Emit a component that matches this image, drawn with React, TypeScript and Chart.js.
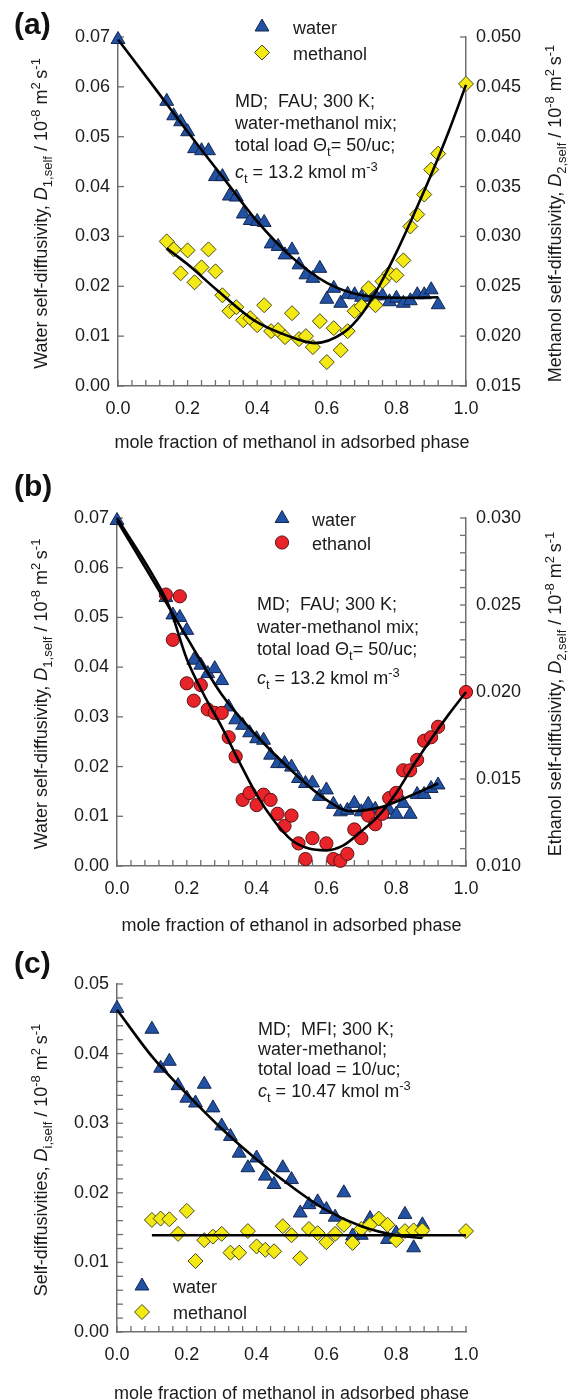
import React, { useEffect, useRef } from 'react';
import { Chart, registerables } from 'chart.js';

Chart.register(...registerables);

// ---------------- axis ticks ----------------
const X_TICK_VALUES = [0, 0.2, 0.4, 0.6, 0.8, 1.0];
const X_TICK_LABELS = ['0.0', '0.2', '0.4', '0.6', '0.8', '1.0'];

const A_LEFT_TICKS = [0, 0.01, 0.02, 0.03, 0.04, 0.05, 0.06, 0.07];
const A_LEFT_LABELS = ['0.00', '0.01', '0.02', '0.03', '0.04', '0.05', '0.06', '0.07'];
const A_RIGHT_TICKS = [0.015, 0.02, 0.025, 0.03, 0.035, 0.04, 0.045, 0.05];
const A_RIGHT_LABELS = ['0.015', '0.020', '0.025', '0.030', '0.035', '0.040', '0.045', '0.050'];

const B_LEFT_TICKS = [0, 0.01, 0.02, 0.03, 0.04, 0.05, 0.06, 0.07];
const B_LEFT_LABELS = ['0.00', '0.01', '0.02', '0.03', '0.04', '0.05', '0.06', '0.07'];
const B_RIGHT_TICKS = [0.01, 0.015, 0.02, 0.025, 0.03];
const B_RIGHT_LABELS = ['0.010', '0.015', '0.020', '0.025', '0.030'];

const C_LEFT_TICKS = [0, 0.01, 0.02, 0.03, 0.04, 0.05];
const C_LEFT_LABELS = ['0.00', '0.01', '0.02', '0.03', '0.04', '0.05'];

// ---------------- panel (a): water / methanol in FAU ----------------
const A_WATER_X = [0, 0.14, 0.16, 0.18, 0.2, 0.22, 0.24, 0.26, 0.28, 0.3, 0.32, 0.34, 0.36, 0.38, 0.4, 0.42, 0.44, 0.46, 0.48, 0.5, 0.52, 0.54, 0.56, 0.58, 0.6, 0.62, 0.64, 0.66, 0.68, 0.7, 0.72, 0.74, 0.76, 0.78, 0.8, 0.82, 0.84, 0.86, 0.88, 0.9, 0.92];
const A_WATER_Y = [0.0695, 0.0571, 0.0542, 0.053, 0.051, 0.0476, 0.0472, 0.0472, 0.042, 0.042, 0.0381, 0.0379, 0.0345, 0.0332, 0.033, 0.0328, 0.0285, 0.028, 0.0263, 0.0273, 0.0243, 0.0223, 0.0216, 0.0236, 0.0174, 0.0196, 0.0166, 0.0184, 0.0183, 0.0178, 0.0179, 0.0181, 0.0181, 0.0169, 0.0176, 0.0166, 0.0171, 0.0183, 0.0183, 0.0193, 0.0163];
const A_METH_X = [0.14, 0.16, 0.18, 0.2, 0.22, 0.24, 0.26, 0.28, 0.3, 0.32, 0.34, 0.36, 0.38, 0.4, 0.42, 0.44, 0.46, 0.48, 0.5, 0.52, 0.54, 0.56, 0.58, 0.6, 0.62, 0.64, 0.66, 0.68, 0.7, 0.72, 0.74, 0.76, 0.78, 0.8, 0.82, 0.84, 0.86, 0.88, 0.9, 0.92, 1.0];
const A_METH_Y = [0.0295, 0.0287, 0.0263, 0.0286, 0.0254, 0.0269, 0.0287, 0.0265, 0.0241, 0.0225, 0.0229, 0.0216, 0.0218, 0.0211, 0.0231, 0.0205, 0.0206, 0.0199, 0.0223, 0.0197, 0.02, 0.0189, 0.0215, 0.0174, 0.0208, 0.0186, 0.0205, 0.0225, 0.023, 0.0248, 0.0231, 0.0255, 0.0263, 0.0261, 0.0276, 0.031, 0.0322, 0.0342, 0.0367, 0.0383, 0.0453];
const A_WATER_FIT_X = [0, 0.1, 0.2, 0.3, 0.4, 0.5, 0.6, 0.7, 0.8, 0.92];
const A_WATER_FIT_Y = [0.0695, 0.0603, 0.051, 0.042, 0.033, 0.0258, 0.0207, 0.0182, 0.0177, 0.0178];
const A_METH_FIT_X = [0.14, 0.2, 0.285, 0.39, 0.49, 0.565, 0.65, 0.7, 0.75, 0.8, 0.85, 0.9, 0.95, 1.0];
const A_METH_FIT_Y = [0.0288, 0.0272, 0.0246, 0.0216, 0.02, 0.0193, 0.0204, 0.0222, 0.025, 0.0284, 0.0322, 0.0362, 0.0405, 0.0452];

// ---------------- panel (b): water / ethanol in FAU ----------------
const B_WATER_X = [0, 0.14, 0.16, 0.18, 0.2, 0.22, 0.24, 0.26, 0.28, 0.3, 0.32, 0.34, 0.36, 0.38, 0.4, 0.42, 0.44, 0.46, 0.48, 0.5, 0.52, 0.54, 0.56, 0.58, 0.6, 0.62, 0.64, 0.66, 0.68, 0.7, 0.72, 0.74, 0.76, 0.78, 0.8, 0.82, 0.84, 0.86, 0.88, 0.9, 0.92];
const B_WATER_Y = [0.0695, 0.054, 0.0505, 0.05, 0.0474, 0.0414, 0.0404, 0.0387, 0.0397, 0.0373, 0.032, 0.0294, 0.0283, 0.0268, 0.0256, 0.0253, 0.0223, 0.0206, 0.0206, 0.0199, 0.0176, 0.0166, 0.0167, 0.014, 0.0153, 0.0124, 0.0109, 0.0112, 0.0126, 0.0109, 0.0124, 0.0114, 0.0104, 0.0112, 0.0104, 0.0126, 0.0104, 0.0144, 0.0144, 0.0156, 0.0163];
const B_ETH_X = [0.14, 0.16, 0.18, 0.2, 0.22, 0.24, 0.26, 0.28, 0.3, 0.32, 0.34, 0.36, 0.38, 0.4, 0.42, 0.44, 0.46, 0.48, 0.5, 0.52, 0.54, 0.56, 0.6, 0.62, 0.64, 0.66, 0.68, 0.7, 0.72, 0.74, 0.76, 0.78, 0.8, 0.82, 0.84, 0.86, 0.88, 0.9, 0.92, 1.0];
const B_ETH_Y = [0.0256, 0.023, 0.0255, 0.0205, 0.0195, 0.0204, 0.019, 0.0188, 0.0188, 0.0174, 0.0163, 0.0138, 0.0142, 0.0135, 0.0141, 0.0138, 0.013, 0.0123, 0.0129, 0.0113, 0.0104, 0.0116, 0.0113, 0.0104, 0.0103, 0.0107, 0.0121, 0.0116, 0.0129, 0.0124, 0.013, 0.0139, 0.0142, 0.0155, 0.0155, 0.0161, 0.0172, 0.0174, 0.018, 0.02];
const B_WATER_FIT_X = [0, 0.1, 0.2, 0.3, 0.4, 0.5, 0.6, 0.67, 0.75, 0.84, 0.92];
const B_WATER_FIT_Y = [0.0695, 0.0578, 0.046, 0.0345, 0.0262, 0.0192, 0.0133, 0.011, 0.0117, 0.0141, 0.0166];
const B_ETH_FIT_X = [0, 0.1, 0.15, 0.2, 0.25, 0.3, 0.35, 0.4, 0.45, 0.5, 0.55, 0.6, 0.65, 0.7, 0.75, 0.8, 0.85, 0.9, 0.95, 1.0];
const B_ETH_FIT_Y = [0.03, 0.0268, 0.0249, 0.0219, 0.0198, 0.018, 0.016, 0.0141, 0.0126, 0.0115, 0.011, 0.0109, 0.0112, 0.012, 0.0129, 0.0142, 0.0158, 0.0173, 0.0187, 0.02];

// ---------------- panel (c): water / methanol in MFI ----------------
const C_WATER_X = [0, 0.1, 0.125, 0.15, 0.175, 0.2, 0.225, 0.25, 0.275, 0.3, 0.325, 0.35, 0.375, 0.4, 0.425, 0.45, 0.475, 0.5, 0.525, 0.55, 0.575, 0.6, 0.625, 0.65, 0.675, 0.7, 0.725, 0.775, 0.8, 0.825, 0.85, 0.875];
const C_WATER_Y = [0.0465, 0.0435, 0.0379, 0.0389, 0.0354, 0.0336, 0.0329, 0.0356, 0.0322, 0.0296, 0.0281, 0.0257, 0.0236, 0.025, 0.0224, 0.0212, 0.0236, 0.0219, 0.0171, 0.0183, 0.0187, 0.0176, 0.0165, 0.02, 0.0138, 0.0139, 0.0163, 0.0133, 0.0142, 0.0169, 0.0121, 0.0154];
const C_METH_X = [0.1, 0.125, 0.15, 0.175, 0.2, 0.225, 0.25, 0.275, 0.3, 0.325, 0.35, 0.375, 0.4, 0.425, 0.45, 0.475, 0.5, 0.525, 0.55, 0.575, 0.6, 0.625, 0.65, 0.675, 0.7, 0.725, 0.75, 0.775, 0.8, 0.825, 0.85, 0.875, 1.0];
const C_METH_Y = [0.0161, 0.0163, 0.0162, 0.0141, 0.0174, 0.0102, 0.0132, 0.0137, 0.0141, 0.0114, 0.0114, 0.0145, 0.0123, 0.0118, 0.0116, 0.0152, 0.0139, 0.0106, 0.0148, 0.0142, 0.0129, 0.0141, 0.0154, 0.0128, 0.0148, 0.0154, 0.0163, 0.0154, 0.0132, 0.0145, 0.0146, 0.0146, 0.0145];
const C_WATER_FIT_X = [0, 0.1, 0.2, 0.3, 0.4, 0.5, 0.6, 0.7, 0.8, 0.875];
const C_WATER_FIT_Y = [0.0463, 0.0396, 0.0342, 0.0292, 0.0248, 0.0209, 0.0175, 0.0152, 0.0139, 0.0135];
const C_METH_FIT_X = [0.1, 1.0];
const C_METH_FIT_Y = [0.0139, 0.0139];

// ---------------- styles ----------------
const FONT = '"Liberation Sans", Arial, Helvetica, sans-serif';
const AXIS = '#6f6f6f';
const TEXT = '#1b1b1b';
const FS = 18;

const WATER_MK = { style: 'triangle', r: 8, bg: '#2151A2', bd: '#142650' };
const METH_MK = { style: 'rectRot', r: 7.5, bg: '#F3E914', bd: '#4a4718' };
const ETH_MK = { style: 'circle', r: 6.6, bg: '#E8232A', bd: '#5c1212' };

type Seg = { t: string; i?: boolean; sub?: boolean; sup?: boolean };

const UNIT: Seg[] = [
  { t: ' / 10' }, { t: '-8', sup: true }, { t: ' m' }, { t: '2', sup: true }, { t: '\u2009s' }, { t: '-1', sup: true },
];

function segFont(s: Seg, size: number) {
  const sz = s.sub || s.sup ? Math.round(size * 0.7) : size;
  return `${s.i ? 'italic ' : ''}${sz}px ${FONT}`;
}

function drawRich(ctx: CanvasRenderingContext2D, segs: Seg[], x: number, y: number, size: number, align: string, rotate = false) {
  ctx.save();
  ctx.translate(x, y);
  if (rotate) ctx.rotate(-Math.PI / 2);
  let w = 0;
  for (const s of segs) {
    ctx.font = segFont(s, size);
    w += ctx.measureText(s.t).width;
  }
  let cx = align === 'center' ? -w / 2 : 0;
  ctx.fillStyle = TEXT;
  ctx.textAlign = 'left';
  ctx.textBaseline = 'alphabetic';
  const base = size * 0.36;
  for (const s of segs) {
    ctx.font = segFont(s, size);
    let dy = base;
    if (s.sub) dy += size * 0.24;
    if (s.sup) dy -= size * 0.42;
    ctx.fillText(s.t, cx, dy);
    cx += ctx.measureText(s.t).width;
  }
  ctx.restore();
}

function drawMarker(ctx: CanvasRenderingContext2D, mk: any, x: number, y: number) {
  const r = mk.r;
  ctx.save();
  ctx.beginPath();
  if (mk.style === 'triangle') {
    let a = 0;
    ctx.moveTo(x + Math.sin(a) * r, y - Math.cos(a) * r);
    a += (2 * Math.PI) / 3;
    ctx.lineTo(x + Math.sin(a) * r, y - Math.cos(a) * r);
    a += (2 * Math.PI) / 3;
    ctx.lineTo(x + Math.sin(a) * r, y - Math.cos(a) * r);
  } else if (mk.style === 'rectRot') {
    ctx.moveTo(x - r, y);
    ctx.lineTo(x, y - r);
    ctx.lineTo(x + r, y);
    ctx.lineTo(x, y + r);
  } else {
    ctx.arc(x, y, r, 0, Math.PI * 2);
  }
  ctx.closePath();
  ctx.fillStyle = mk.bg;
  ctx.fill();
  ctx.lineWidth = 1;
  ctx.strokeStyle = mk.bd;
  ctx.stroke();
  ctx.restore();
}

const pts = (xs: number[], ys: number[]) => xs.map((x, i) => ({ x, y: ys[i] }));

function pointSet(label: string, xs: number[], ys: number[], mk: any, axis: string, order: number) {
  return {
    label,
    data: pts(xs, ys),
    showLine: false,
    pointStyle: mk.style,
    pointRadius: mk.r,
    pointHoverRadius: mk.r,
    pointBackgroundColor: mk.bg,
    pointBorderColor: mk.bd,
    pointBorderWidth: 1,
    backgroundColor: mk.bg,
    borderColor: mk.bd,
    yAxisID: axis,
    order,
    clip: false,
  };
}

function fitSet(label: string, xs: number[], ys: number[], axis: string) {
  return {
    label,
    data: pts(xs, ys),
    showLine: true,
    borderColor: '#000',
    borderWidth: 2.6,
    pointRadius: 0,
    pointHoverRadius: 0,
    cubicInterpolationMode: 'monotone',
    fill: false,
    yAxisID: axis,
    order: 0,
    clip: false,
  };
}

const PANEL_A = {
  height: 460,
  top: 37,
  leftW: 118,
  rightW: 102,
  xAxisH: 74,
  left: { min: 0, max: 0.07, ticks: A_LEFT_TICKS, labels: A_LEFT_LABELS },
  right: { min: 0.015, max: 0.05, ticks: A_RIGHT_TICKS, labels: A_RIGHT_LABELS },
  tickMarks: [{ id: 'x', step: 0.04 }, { id: 'y', step: 0.01 }, { id: 'y2', step: 0.005 }],
  datasets: [
    fitSet('water fit', A_WATER_FIT_X, A_WATER_FIT_Y, 'y'),
    fitSet('methanol fit', A_METH_FIT_X, A_METH_FIT_Y, 'y2'),
    pointSet('methanol', A_METH_X, A_METH_Y, METH_MK, 'y2', 1),
    pointSet('water', A_WATER_X, A_WATER_Y, WATER_MK, 'y', 2),
  ],
  label: { text: '(a)', x: 14, y: 34 },
  leftTitle: [{ t: 'Water self-diffusivity, ' }, { t: 'D', i: true }, { t: '1,self', sub: true }, ...UNIT],
  leftX: 41,
  rightTitle: [{ t: 'Methanol self-diffusivity, ' }, { t: 'D', i: true }, { t: '2,self', sub: true }, ...UNIT],
  rightX: 555,
  xTitle: 'mole fraction of methanol in adsorbed phase',
  xTitleY: 442,
  note: {
    x: 235,
    lines: [
      { y: 101, segs: [{ t: 'MD;  FAU; 300 K;' }] },
      { y: 123, segs: [{ t: 'water-methanol mix;' }] },
      { y: 145, segs: [{ t: 'total load \u0398' }, { t: 't', sub: true }, { t: '= 50/uc;' }] },
      { y: 172, segs: [{ t: 'c', i: true }, { t: 't', sub: true }, { t: ' = 13.2 kmol m' }, { t: '-3', sup: true }] },
    ],
  },
  legend: {
    x: 262,
    textX: 293,
    items: [
      { y: 27, label: 'water', mk: WATER_MK },
      { y: 52.5, label: 'methanol', mk: METH_MK },
    ],
  },
};

const PANEL_B = {
  height: 480,
  top: 58,
  leftW: 117,
  rightW: 102,
  xAxisH: 74,
  left: { min: 0, max: 0.07, ticks: B_LEFT_TICKS, labels: B_LEFT_LABELS },
  right: { min: 0.01, max: 0.03, ticks: B_RIGHT_TICKS, labels: B_RIGHT_LABELS },
  tickMarks: [{ id: 'x', step: 0.04 }, { id: 'y', step: 0.01 }, { id: 'y2', step: 0.001 }],
  datasets: [
    fitSet('water fit', B_WATER_FIT_X, B_WATER_FIT_Y, 'y'),
    fitSet('ethanol fit', B_ETH_FIT_X, B_ETH_FIT_Y, 'y2'),
    pointSet('ethanol', B_ETH_X, B_ETH_Y, ETH_MK, 'y2', 1),
    pointSet('water', B_WATER_X, B_WATER_Y, WATER_MK, 'y', 2),
  ],
  label: { text: '(b)', x: 14, y: 36 },
  leftTitle: [{ t: 'Water self-diffusivity, ' }, { t: 'D', i: true }, { t: '1,self', sub: true }, ...UNIT],
  leftX: 41,
  rightTitle: [{ t: 'Ethanol self-diffusivity, ' }, { t: 'D', i: true }, { t: '2,self', sub: true }, ...UNIT],
  rightX: 555,
  xTitle: 'mole fraction of ethanol in adsorbed phase',
  xTitleY: 465,
  note: {
    x: 257,
    lines: [
      { y: 144, segs: [{ t: 'MD;  FAU; 300 K;' }] },
      { y: 167, segs: [{ t: 'water-methanol mix;' }] },
      { y: 189, segs: [{ t: 'total load \u0398' }, { t: 't', sub: true }, { t: '= 50/uc;' }] },
      { y: 218, segs: [{ t: 'c', i: true }, { t: 't', sub: true }, { t: ' = 13.2 kmol m' }, { t: '-3', sup: true }] },
    ],
  },
  legend: {
    x: 282,
    textX: 312,
    items: [
      { y: 58.5, label: 'water', mk: WATER_MK },
      { y: 82.5, label: 'ethanol', mk: ETH_MK },
    ],
  },
};

const PANEL_C = {
  height: 460,
  top: 44,
  leftW: 117,
  rightW: 102,
  xAxisH: 68,
  left: { min: 0, max: 0.05, ticks: C_LEFT_TICKS, labels: C_LEFT_LABELS },
  right: null,
  tickMarks: [{ id: 'x', step: 0.04 }, { id: 'y', step: 0.002 }],
  datasets: [
    fitSet('water fit', C_WATER_FIT_X, C_WATER_FIT_Y, 'y'),
    fitSet('methanol fit', C_METH_FIT_X, C_METH_FIT_Y, 'y'),
    pointSet('methanol', C_METH_X, C_METH_Y, METH_MK, 'y', 1),
    pointSet('water', C_WATER_X, C_WATER_Y, WATER_MK, 'y', 2),
  ],
  label: { text: '(c)', x: 14, y: 33 },
  leftTitle: [{ t: 'Self-diffusivities, ' }, { t: 'D', i: true }, { t: 'i,self', sub: true }, ...UNIT],
  leftX: 41,
  rightTitle: null,
  rightX: 0,
  xTitle: 'mole fraction of methanol in adsorbed phase',
  xTitleY: 453,
  note: {
    x: 258,
    lines: [
      { y: 89, segs: [{ t: 'MD;  MFI; 300 K;' }] },
      { y: 109, segs: [{ t: 'water-methanol;' }] },
      { y: 129, segs: [{ t: 'total load = 10/uc;' }] },
      { y: 151, segs: [{ t: 'c', i: true }, { t: 't', sub: true }, { t: ' = 10.47 kmol m' }, { t: '-3', sup: true }] },
    ],
  },
  legend: {
    x: 142,
    textX: 173,
    items: [
      { y: 346, label: 'water', mk: WATER_MK },
      { y: 372, label: 'methanol', mk: METH_MK },
    ],
  },
};

function valueAxis(position: string, spec: any, width: number) {
  return {
    type: 'linear',
    position,
    min: spec.min,
    max: spec.max,
    afterBuildTicks: (s: any) => {
      s.ticks = spec.ticks.map((v: number) => ({ value: v }));
    },
    ticks: {
      autoSkip: false,
      padding: position === 'left' ? 8 : 10,
      color: TEXT,
      font: { family: FONT, size: FS },
      callback: (_v: any, i: number) => spec.labels[i],
    },
    grid: { display: false, drawTicks: false },
    border: { display: true, color: AXIS, width: 1.5 },
    afterFit: (s: any) => {
      s.width = width;
    },
  };
}

function buildChart(canvas: HTMLCanvasElement, cfg: any) {
  const scales: any = {
    x: {
      type: 'linear',
      position: 'bottom',
      min: 0,
      max: 1,
      afterBuildTicks: (s: any) => {
        s.ticks = X_TICK_VALUES.map((v) => ({ value: v }));
      },
      ticks: {
        autoSkip: false,
        maxRotation: 0,
        padding: 12,
        color: TEXT,
        font: { family: FONT, size: FS },
        callback: (_v: any, i: number) => X_TICK_LABELS[i],
      },
      grid: { display: false, drawTicks: false },
      border: { display: true, color: AXIS, width: 1.5 },
      afterFit: (s: any) => {
        s.height = cfg.xAxisH;
      },
    },
    y: valueAxis('left', cfg.left, cfg.leftW),
  };
  if (cfg.right) scales.y2 = valueAxis('right', cfg.right, cfg.rightW);

  const decor = {
    id: 'decor',
    beforeDatasetsDraw(chart: any) {
      const ctx = chart.ctx;
      const area = chart.chartArea;
      const TL = 6;
      ctx.save();
      ctx.strokeStyle = AXIS;
      ctx.lineWidth = 1.3;
      for (const t of cfg.tickMarks) {
        const s = chart.scales[t.id];
        if (!s) continue;
        const n = Math.round((s.max - s.min) / t.step);
        for (let k = 0; k <= n; k++) {
          const p = s.getPixelForValue(s.min + k * t.step);
          ctx.beginPath();
          if (t.id === 'x') {
            ctx.moveTo(p, area.bottom);
            ctx.lineTo(p, area.bottom - TL);
          } else if (s.position === 'left') {
            ctx.moveTo(area.left, p);
            ctx.lineTo(area.left + TL, p);
          } else {
            ctx.moveTo(area.right, p);
            ctx.lineTo(area.right - TL, p);
          }
          ctx.stroke();
        }
      }
      ctx.restore();
    },
    afterDraw(chart: any) {
      const ctx = chart.ctx;
      const area = chart.chartArea;
      const midY = (area.top + area.bottom) / 2 + 2;
      ctx.save();
      ctx.font = `bold 30px ${FONT}`;
      ctx.fillStyle = '#111';
      ctx.textAlign = 'left';
      ctx.textBaseline = 'alphabetic';
      ctx.fillText(cfg.label.text, cfg.label.x, cfg.label.y);
      ctx.restore();
      drawRich(ctx, cfg.leftTitle, cfg.leftX, midY, FS, 'center', true);
      if (cfg.rightTitle) drawRich(ctx, cfg.rightTitle, cfg.rightX, midY, FS, 'center', true);
      drawRich(ctx, [{ t: cfg.xTitle }], (area.left + area.right) / 2, cfg.xTitleY, FS, 'center');
      for (const ln of cfg.note.lines) drawRich(ctx, ln.segs, cfg.note.x, ln.y, FS, 'left');
      for (const it of cfg.legend.items) {
        drawMarker(ctx, it.mk, cfg.legend.x, it.y);
        drawRich(ctx, [{ t: it.label }], cfg.legend.textX, it.y + 1, FS, 'left');
      }
    },
  };

  return new Chart(canvas, {
    type: 'scatter',
    data: { datasets: cfg.datasets },
    options: {
      responsive: false,
      animation: false,
      devicePixelRatio: 1,
      layout: { padding: { left: 0, right: cfg.right ? 0 : cfg.rightW, top: cfg.top, bottom: 0 } },
      plugins: { legend: { display: false }, tooltip: { enabled: false } },
      events: [],
      scales,
    } as any,
    plugins: [decor],
  } as any);
}

function Panel({ cfg, top }: { cfg: any; top: number }) {
  const ref = useRef<HTMLCanvasElement | null>(null);
  useEffect(() => {
    if (!ref.current) return;
    const chart = buildChart(ref.current, cfg);
    return () => chart.destroy();
  }, [cfg]);
  return (
    <canvas
      ref={ref}
      width={568}
      height={cfg.height}
      style={{ position: 'absolute', left: 0, top, width: 568, height: cfg.height, display: 'block' }}
    />
  );
}

export default function App() {
  return (
    <div style={{ position: 'absolute', left: 0, top: 0, width: 568, height: 1400, background: '#ffffff', overflow: 'hidden' }}>
      <Panel cfg={PANEL_A} top={0} />
      <Panel cfg={PANEL_B} top={460} />
      <Panel cfg={PANEL_C} top={940} />
    </div>
  );
}
